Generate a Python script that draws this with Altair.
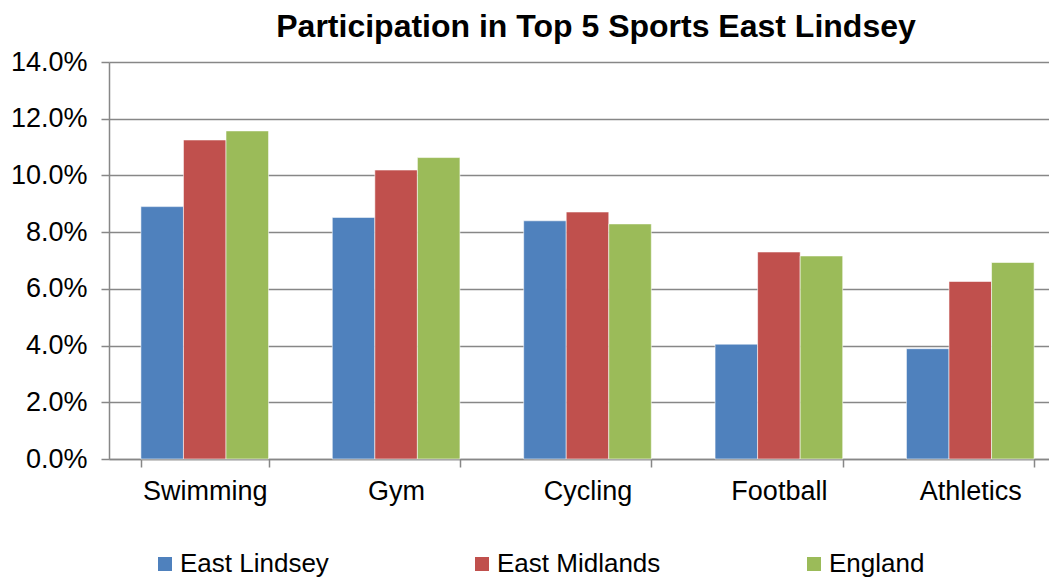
import altair as alt
import pandas as pd

sports = ["Swimming", "Gym", "Cycling", "Football", "Athletics"]
series = ["East Lindsey", "East Midlands", "England"]
east_lindsey = [0.089, 0.0852, 0.084, 0.0405, 0.0389]
east_midlands = [0.1125, 0.1019, 0.0871, 0.073, 0.0626]
england = [0.1157, 0.1063, 0.0829, 0.0716, 0.0693]
colors = ["#4F81BD", "#C0504D", "#9BBB59"]
y_ticks = [0, 0.02, 0.04, 0.06, 0.08, 0.10, 0.12, 0.14]

rows = []
for s, vals in zip(series, [east_lindsey, east_midlands, england]):
    for sp, v in zip(sports, vals):
        rows.append({"sport": sp, "series": s, "value": v})
df = pd.DataFrame(rows)

FONT = "Liberation Sans"

chart = alt.Chart(df).mark_bar(
    stroke="white", strokeWidth=0.8, strokeOpacity=0.7
).encode(
    x=alt.X("sport:N", sort=sports, title=None,
            scale=alt.Scale(range=[0, 957], paddingInner=0.333, paddingOuter=0.1667),
            axis=alt.Axis(labelAngle=0, tickBand="extent", tickSize=8, labelPadding=11,
                          labelFontSize=27, labelColor="black", labelFont=FONT,
                          domainColor="#878787", tickColor="#878787",
                          domainWidth=1.5, tickWidth=1.5, grid=False)),
    xOffset=alt.XOffset("series:N", sort=series,
                        scale=alt.Scale(paddingInner=0, paddingOuter=0)),
    y=alt.Y("value:Q", title=None,
            scale=alt.Scale(domain=[0, 0.14], nice=False),
            axis=alt.Axis(values=y_ticks, format=".1%", tickSize=8, labelPadding=14,
                          labelFontSize=27, labelColor="black", labelFont=FONT,
                          domainColor="#878787", tickColor="#878787",
                          domainWidth=1.5, tickWidth=1.5,
                          gridColor="#878787", gridWidth=1.5)),
    color=alt.Color("series:N", sort=series,
                    scale=alt.Scale(domain=series, range=colors),
                    legend=alt.Legend(orient="none", legendX=43, legendY=489,
                                      direction="horizontal", title=None,
                                      symbolType="square", symbolSize=196,
                                      symbolStrokeWidth=0, labelOffset=2,
                                      labelFontSize=26, labelFont=FONT, labelColor="black",
                                      labelLimit=0, columnPadding=140)),
).properties(
    width=940,
    height=397,
    padding={"left": 101, "top": 54, "right": 0, "bottom": 118},
    autosize=alt.AutoSizeParams(type="none"),
    title=alt.TitleParams("Participation in Top 5 Sports East Lindsey",
                          fontSize=32, font=FONT, fontWeight="bold", color="black",
                          offset=4, dx=17, anchor="middle"),
).configure_view(stroke=None)

chart.save("out.html", embed_options={"renderer": "svg", "actions": False})
